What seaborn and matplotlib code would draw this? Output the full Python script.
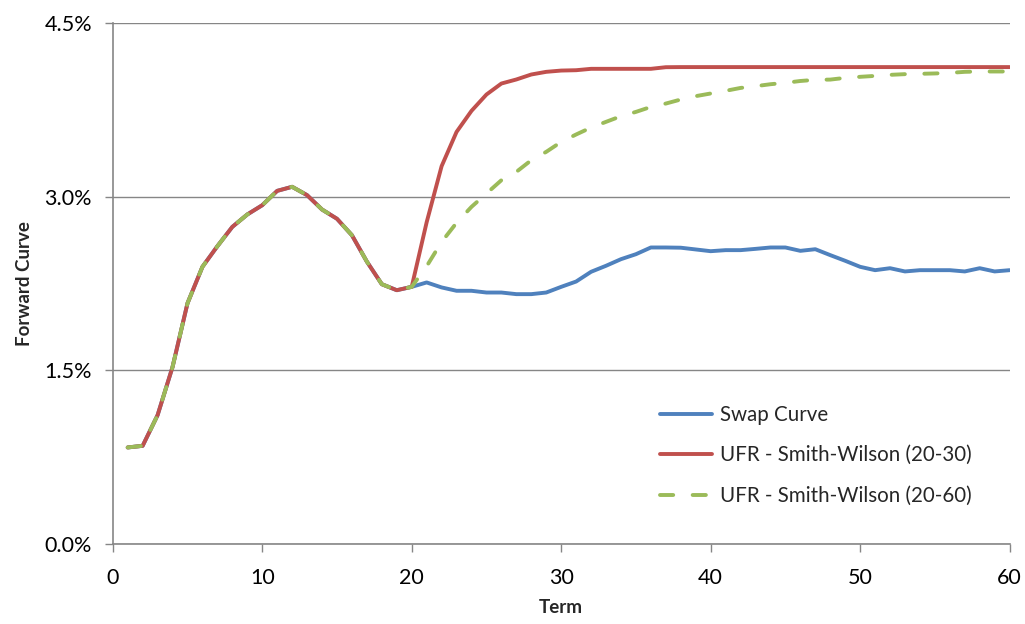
import matplotlib
matplotlib.use("Agg")
import matplotlib.pyplot as plt
import seaborn as sns
import pandas as pd
import numpy as np
from matplotlib.ticker import FuncFormatter

terms = list(range(1, 61))

common_1_20 = [0.835, 0.849, 1.114, 1.53, 2.08, 2.395, 2.573, 2.74, 2.847, 2.927,
               3.051, 3.086, 3.014, 2.89, 2.81, 2.668, 2.44, 2.245, 2.193, 2.222]

swap_21_60 = [2.26, 2.217, 2.188, 2.188, 2.173, 2.173, 2.159, 2.159, 2.173, 2.222,
              2.268, 2.352, 2.404, 2.461, 2.504, 2.562, 2.562, 2.56, 2.545, 2.53,
              2.539, 2.539, 2.55, 2.562, 2.562, 2.533, 2.547, 2.496, 2.447, 2.395,
              2.366, 2.383, 2.355, 2.366, 2.366, 2.366, 2.355, 2.383, 2.355, 2.366]

sw2030_21_60 = [2.78, 3.264, 3.56, 3.742, 3.883, 3.978, 4.013, 4.056, 4.079, 4.09,
                4.093, 4.105, 4.105, 4.105, 4.105, 4.105, 4.119, 4.12, 4.12, 4.12,
                4.12, 4.12, 4.12, 4.12, 4.12, 4.12, 4.12, 4.12, 4.12, 4.12,
                4.12, 4.12, 4.12, 4.12, 4.12, 4.12, 4.12, 4.12, 4.12, 4.12]

sw2060_21_60 = [2.40, 2.61, 2.775, 2.913, 3.028, 3.143, 3.215, 3.316, 3.388, 3.474,
                3.538, 3.598, 3.647, 3.696, 3.733, 3.776, 3.805, 3.84, 3.869, 3.892,
                3.915, 3.94, 3.955, 3.972, 3.984, 4.0, 4.01, 4.012, 4.027, 4.036,
                4.044, 4.053, 4.059, 4.062, 4.065, 4.07, 4.079, 4.082, 4.082, 4.082]

series_names = ["Swap Curve", "UFR - Smith-Wilson (20-30)", "UFR - Smith-Wilson (20-60)"]
series_values = [common_1_20 + swap_21_60,
                 common_1_20 + sw2030_21_60,
                 common_1_20 + sw2060_21_60]
colors = ["#4F81BD", "#C0504D", "#9BBB59"]

y_ticks = [0.0, 1.5, 3.0, 4.5]
x_ticks = [0, 10, 20, 30, 40, 50, 60]

sns.set_theme(style="white")
plt.rcParams['font.family'] = ['Lato', 'DejaVu Sans']

fig = plt.figure(figsize=(10.25, 6.24), dpi=100)
ax = fig.add_axes([0.110, 0.128, 0.875, 0.835])

lw = 2.8
for i, (name, vals, col) in enumerate(zip(series_names, series_values, colors)):
    df = pd.DataFrame({"Term": terms, "Value": vals})
    line_kw = dict(color=col, linewidth=lw, label=name, ax=ax, zorder=3 + i)
    if i == 2:
        sns.lineplot(data=df, x="Term", y="Value", dashes=False, **line_kw)
        ln = ax.get_lines()[-1]
        ln.set_dashes((3.4, 5.0))
        ln.set_dash_capstyle('round')
    else:
        sns.lineplot(data=df, x="Term", y="Value", **line_kw)
        ax.get_lines()[-1].set_solid_capstyle('round')

ax.set_xlim(0, 60)
ax.set_ylim(0, 4.5)
ax.set_xticks(x_ticks)
ax.set_yticks(y_ticks)
ax.yaxis.set_major_formatter(FuncFormatter(lambda v, p: f"{v:.1f}%"))

ax.grid(axis='y', color='#868686', linewidth=1.0)
ax.grid(axis='x', visible=False)
for s in ['top', 'right']:
    ax.spines[s].set_visible(False)
for s in ['left', 'bottom']:
    ax.spines[s].set_color('#868686')
    ax.spines[s].set_linewidth(1.2)

ax.tick_params(axis='both', which='major', direction='out', length=6, width=1.0,
               color='#868686', labelsize=15.5, labelcolor='black', left=True, bottom=True)
ax.tick_params(axis='y', pad=9)
ax.tick_params(axis='x', pad=11)

ax.set_xlabel("Term", fontsize=13.5, fontweight='bold', labelpad=8)
ax.set_ylabel("Forward Curve", fontsize=13.5, fontweight='bold', labelpad=8)

leg = ax.legend(loc='upper left', bbox_to_anchor=(0.590, 0.303), frameon=False,
                fontsize=14.8, handlelength=2.5, handletextpad=0.4, labelspacing=1.0)

fig.savefig("out.png", dpi=100)
